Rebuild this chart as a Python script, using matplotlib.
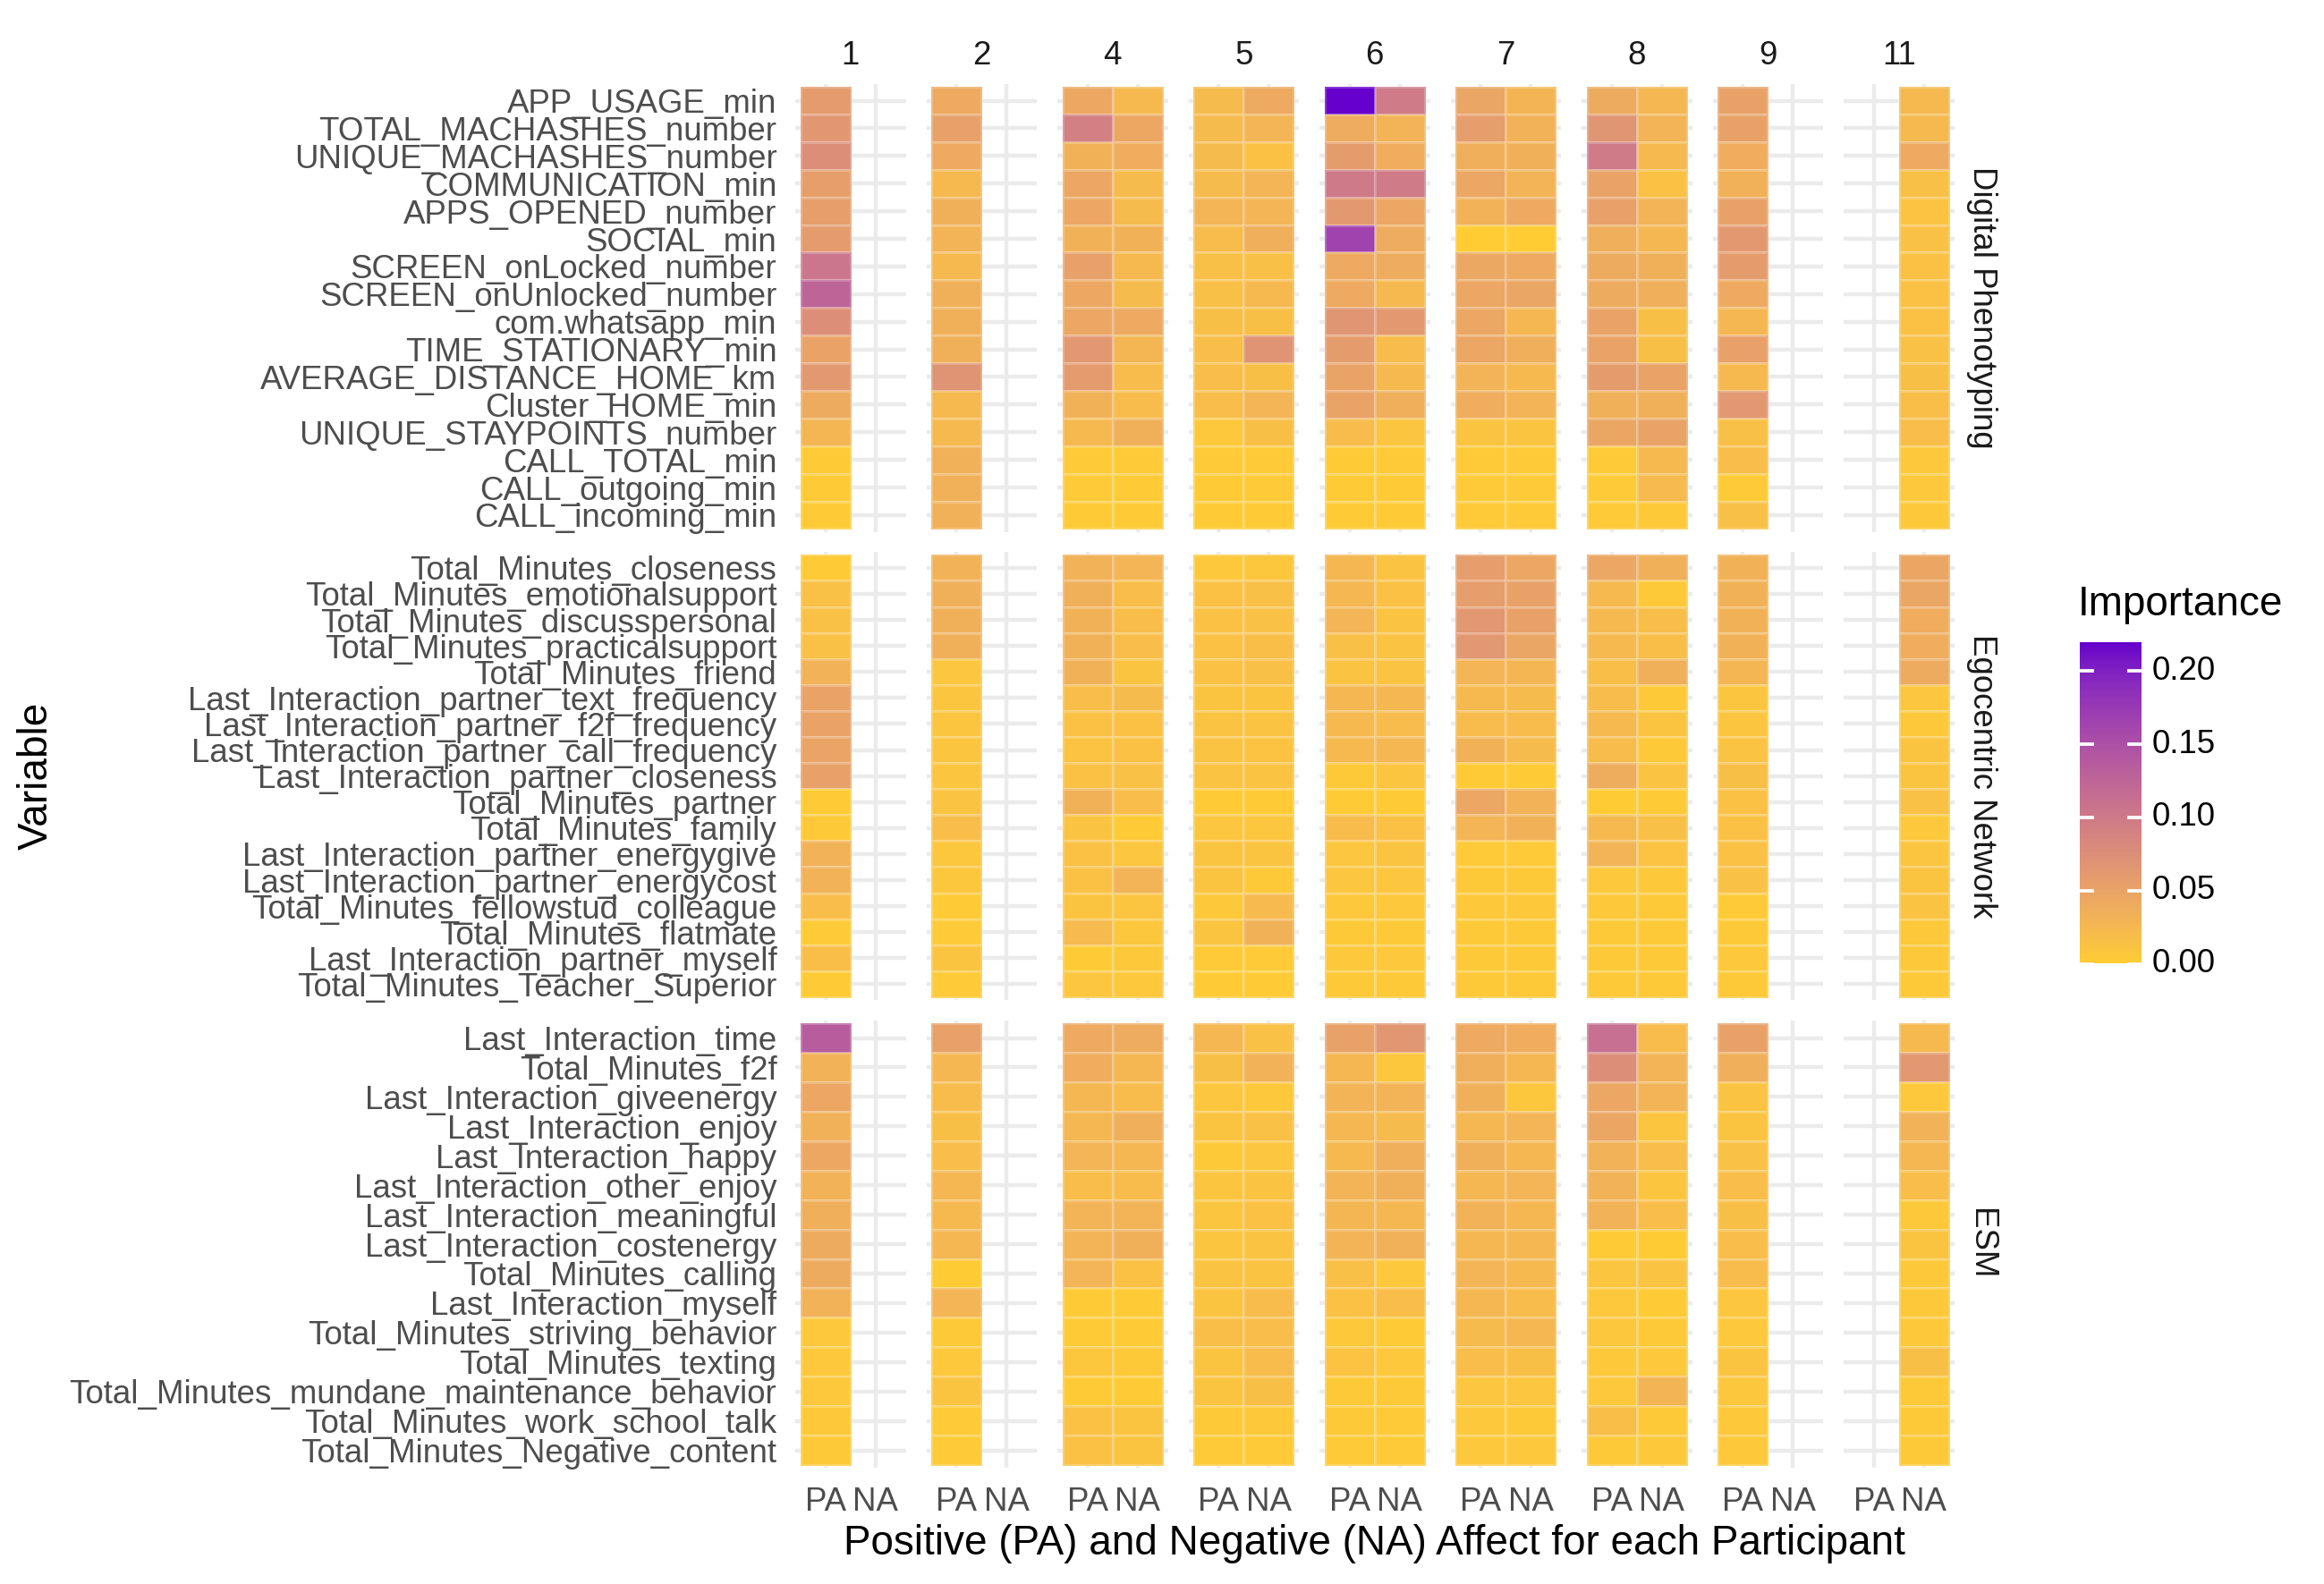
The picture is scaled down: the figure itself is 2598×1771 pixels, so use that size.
import numpy as np
import matplotlib
matplotlib.use("Agg")
import matplotlib.pyplot as plt
from matplotlib.colors import ListedColormap, Normalize, to_rgb
from matplotlib.transforms import blended_transform_factory

plt.rcParams["font.family"] = ["Liberation Sans", "DejaVu Sans"]

participants = ["1", "2", "4", "5", "6", "7", "8", "9", "11"]
affects = ["PA", "NA"]
groups = ["Digital Phenotyping", "Egocentric Network", "ESM"]

dp_vars = [
    "APP_USAGE_min", "TOTAL_MACHASHES_number", "UNIQUE_MACHASHES_number",
    "COMMUNICATION_min", "APPS_OPENED_number", "SOCIAL_min",
    "SCREEN_onLocked_number", "SCREEN_onUnlocked_number", "com.whatsapp_min",
    "TIME_STATIONARY_min", "AVERAGE_DISTANCE_HOME_km", "Cluster_HOME_min",
    "UNIQUE_STAYPOINTS_number", "CALL_TOTAL_min", "CALL_outgoing_min",
    "CALL_incoming_min",
]
en_vars = [
    "Total_Minutes_closeness", "Total_Minutes_emotionalsupport",
    "Total_Minutes_discusspersonal", "Total_Minutes_practicalsupport",
    "Total_Minutes_friend", "Last_Interaction_partner_text_frequency",
    "Last_Interaction_partner_f2f_frequency", "Last_Interaction_partner_call_frequency",
    "Last_Interaction_partner_closeness", "Total_Minutes_partner",
    "Total_Minutes_family", "Last_Interaction_partner_energygive",
    "Last_Interaction_partner_energycost", "Total_Minutes_fellowstud_colleague",
    "Total_Minutes_flatmate", "Last_Interaction_partner_myself",
    "Total_Minutes_Teacher_Superior",
]
esm_vars = [
    "Last_Interaction_time", "Total_Minutes_f2f", "Last_Interaction_giveenergy",
    "Last_Interaction_enjoy", "Last_Interaction_happy", "Last_Interaction_other_enjoy",
    "Last_Interaction_meaningful", "Last_Interaction_costenergy",
    "Total_Minutes_calling", "Last_Interaction_myself",
    "Total_Minutes_striving_behavior", "Total_Minutes_texting",
    "Total_Minutes_mundane_maintenance_behavior", "Total_Minutes_work_school_talk",
    "Total_Minutes_Negative_content",
]

# importance per participant, one list per affect (rows follow the variable lists)
dp_pa = {
    "1": [0.060, 0.065, 0.075, 0.055, 0.055, 0.060, 0.105, 0.125, 0.075, 0.050, 0.062, 0.040, 0.027, 0.002, 0.002, 0.002],
    "2": [0.042, 0.053, 0.042, 0.024, 0.034, 0.030, 0.024, 0.034, 0.034, 0.034, 0.068, 0.024, 0.024, 0.033, 0.033, 0.033],
    "4": [0.043, 0.092, 0.031, 0.045, 0.045, 0.031, 0.053, 0.043, 0.045, 0.063, 0.060, 0.031, 0.024, 0.003, 0.003, 0.002],
    "5": [0.021, 0.021, 0.021, 0.021, 0.029, 0.020, 0.015, 0.015, 0.016, 0.018, 0.018, 0.018, 0.006, 0.003, 0.002, 0.002],
    "6": [0.220, 0.039, 0.058, 0.100, 0.062, 0.165, 0.042, 0.042, 0.067, 0.058, 0.050, 0.050, 0.019, 0.002, 0.002, 0.002],
    "7": [0.047, 0.056, 0.036, 0.045, 0.032, 0.000, 0.044, 0.045, 0.045, 0.045, 0.030, 0.037, 0.010, 0.003, 0.003, 0.003],
    "8": [0.041, 0.067, 0.098, 0.050, 0.052, 0.036, 0.041, 0.041, 0.050, 0.050, 0.058, 0.034, 0.046, 0.003, 0.003, 0.003],
    "9": [0.051, 0.051, 0.037, 0.033, 0.051, 0.062, 0.058, 0.042, 0.026, 0.053, 0.024, 0.064, 0.015, 0.018, 0.003, 0.015],
}
dp_na = {
    "4": [0.024, 0.043, 0.037, 0.021, 0.021, 0.031, 0.024, 0.021, 0.042, 0.027, 0.019, 0.019, 0.035, 0.003, 0.002, 0.002],
    "5": [0.042, 0.029, 0.013, 0.029, 0.029, 0.036, 0.015, 0.023, 0.016, 0.068, 0.016, 0.029, 0.016, 0.003, 0.003, 0.002],
    "6": [0.098, 0.030, 0.037, 0.098, 0.045, 0.039, 0.039, 0.024, 0.062, 0.020, 0.024, 0.036, 0.009, 0.003, 0.002, 0.002],
    "7": [0.028, 0.032, 0.034, 0.030, 0.042, 0.000, 0.042, 0.047, 0.026, 0.036, 0.024, 0.030, 0.010, 0.003, 0.003, 0.003],
    "8": [0.026, 0.030, 0.024, 0.013, 0.030, 0.026, 0.035, 0.036, 0.016, 0.016, 0.050, 0.034, 0.050, 0.024, 0.022, 0.004],
    "11": [0.024, 0.024, 0.042, 0.015, 0.011, 0.014, 0.013, 0.013, 0.013, 0.014, 0.016, 0.017, 0.018, 0.006, 0.006, 0.005],
}
en_pa = {
    "1": [0.002, 0.014, 0.014, 0.014, 0.032, 0.050, 0.050, 0.049, 0.053, 0.002, 0.004, 0.032, 0.032, 0.018, 0.003, 0.017, 0.002],
    "2": [0.032, 0.035, 0.034, 0.035, 0.008, 0.009, 0.009, 0.009, 0.009, 0.012, 0.018, 0.007, 0.007, 0.002, 0.003, 0.010, 0.003],
    "4": [0.032, 0.035, 0.031, 0.031, 0.031, 0.018, 0.013, 0.011, 0.013, 0.031, 0.012, 0.013, 0.013, 0.010, 0.022, 0.002, 0.008],
    "5": [0.006, 0.013, 0.013, 0.013, 0.013, 0.010, 0.012, 0.012, 0.012, 0.002, 0.008, 0.010, 0.010, 0.005, 0.010, 0.003, 0.002],
    "6": [0.026, 0.026, 0.029, 0.015, 0.012, 0.026, 0.024, 0.024, 0.004, 0.002, 0.020, 0.008, 0.008, 0.006, 0.004, 0.006, 0.004],
    "7": [0.056, 0.056, 0.063, 0.063, 0.029, 0.023, 0.020, 0.031, 0.002, 0.045, 0.029, 0.003, 0.004, 0.005, 0.004, 0.004, 0.004],
    "8": [0.045, 0.024, 0.024, 0.023, 0.017, 0.020, 0.023, 0.020, 0.038, 0.001, 0.023, 0.030, 0.006, 0.005, 0.004, 0.004, 0.004],
    "9": [0.031, 0.031, 0.031, 0.031, 0.027, 0.009, 0.009, 0.012, 0.016, 0.013, 0.013, 0.013, 0.014, 0.003, 0.004, 0.006, 0.004],
}
en_na = {
    "4": [0.029, 0.018, 0.018, 0.018, 0.010, 0.021, 0.013, 0.013, 0.014, 0.018, 0.002, 0.008, 0.030, 0.009, 0.007, 0.005, 0.006],
    "5": [0.007, 0.015, 0.014, 0.017, 0.015, 0.010, 0.012, 0.011, 0.012, 0.002, 0.008, 0.010, 0.004, 0.022, 0.031, 0.003, 0.002],
    "6": [0.012, 0.013, 0.012, 0.012, 0.012, 0.026, 0.020, 0.026, 0.009, 0.002, 0.013, 0.010, 0.008, 0.006, 0.004, 0.006, 0.004],
    "7": [0.045, 0.051, 0.051, 0.047, 0.027, 0.021, 0.020, 0.021, 0.002, 0.032, 0.031, 0.003, 0.004, 0.005, 0.004, 0.004, 0.004],
    "8": [0.034, 0.004, 0.018, 0.017, 0.034, 0.004, 0.010, 0.004, 0.012, 0.002, 0.015, 0.011, 0.005, 0.004, 0.004, 0.004, 0.004],
    "11": [0.046, 0.047, 0.037, 0.037, 0.040, 0.008, 0.005, 0.010, 0.010, 0.014, 0.006, 0.009, 0.010, 0.012, 0.005, 0.005, 0.004],
}
esm_pa = {
    "1": [0.135, 0.032, 0.045, 0.033, 0.043, 0.032, 0.036, 0.040, 0.041, 0.032, 0.006, 0.006, 0.006, 0.005, 0.004],
    "2": [0.052, 0.026, 0.019, 0.016, 0.018, 0.026, 0.024, 0.026, 0.001, 0.029, 0.004, 0.006, 0.010, 0.003, 0.003],
    "4": [0.042, 0.037, 0.026, 0.026, 0.029, 0.018, 0.030, 0.030, 0.029, 0.002, 0.002, 0.007, 0.002, 0.013, 0.013],
    "5": [0.026, 0.016, 0.008, 0.010, 0.004, 0.009, 0.009, 0.009, 0.012, 0.010, 0.017, 0.010, 0.010, 0.004, 0.003],
    "6": [0.051, 0.026, 0.030, 0.025, 0.023, 0.030, 0.027, 0.030, 0.015, 0.013, 0.005, 0.011, 0.004, 0.004, 0.003],
    "7": [0.042, 0.036, 0.035, 0.026, 0.035, 0.025, 0.032, 0.026, 0.029, 0.026, 0.021, 0.018, 0.008, 0.006, 0.006],
    "8": [0.112, 0.075, 0.045, 0.046, 0.032, 0.032, 0.032, 0.002, 0.009, 0.006, 0.007, 0.005, 0.006, 0.017, 0.004],
    "9": [0.051, 0.036, 0.012, 0.010, 0.014, 0.018, 0.016, 0.018, 0.020, 0.008, 0.006, 0.010, 0.007, 0.005, 0.005],
}
esm_na = {
    "4": [0.039, 0.026, 0.020, 0.036, 0.026, 0.019, 0.030, 0.035, 0.013, 0.002, 0.002, 0.004, 0.002, 0.010, 0.010],
    "5": [0.014, 0.032, 0.006, 0.014, 0.008, 0.012, 0.013, 0.012, 0.012, 0.019, 0.018, 0.019, 0.016, 0.005, 0.003],
    "6": [0.065, 0.007, 0.030, 0.021, 0.036, 0.035, 0.025, 0.033, 0.006, 0.018, 0.002, 0.006, 0.004, 0.003, 0.003],
    "7": [0.037, 0.026, 0.007, 0.029, 0.026, 0.029, 0.026, 0.026, 0.024, 0.020, 0.025, 0.016, 0.008, 0.004, 0.006],
    "8": [0.019, 0.030, 0.030, 0.009, 0.018, 0.009, 0.018, 0.001, 0.012, 0.002, 0.004, 0.006, 0.028, 0.004, 0.005],
    "11": [0.024, 0.063, 0.006, 0.032, 0.025, 0.018, 0.005, 0.010, 0.005, 0.005, 0.005, 0.016, 0.004, 0.004, 0.004],
}

LOW, HIGH = "#FFCC33", "#6600CC"

_M = np.array([[0.4124564, 0.3575761, 0.1804375],
               [0.2126729, 0.7151522, 0.0721750],
               [0.0193339, 0.1191920, 0.9503041]])
_WHITE = np.array([0.95047, 1.0, 1.08883])


def _to_lab(color):
    rgb = np.array(to_rgb(color))
    lin = np.where(rgb <= 0.04045, rgb / 12.92, ((rgb + 0.055) / 1.055) ** 2.4)
    t = (_M @ lin) / _WHITE
    f = np.where(t > (6 / 29) ** 3, np.cbrt(t), t / (3 * (6 / 29) ** 2) + 4 / 29)
    return np.array([116 * f[1] - 16, 500 * (f[0] - f[1]), 200 * (f[1] - f[2])])


def _from_lab(lab):
    L, a, b = lab.T
    fy = (L + 16) / 116
    fx, fz = fy + a / 500, fy - b / 200

    def finv(f):
        return np.where(f > 6 / 29, f ** 3, 3 * (6 / 29) ** 2 * (f - 4 / 29))

    xyz = np.stack([finv(fx), finv(fy), finv(fz)], axis=1) * _WHITE
    lin = np.clip(xyz @ np.linalg.inv(_M).T, 0, None)
    rgb = np.where(lin <= 0.0031308, 12.92 * lin, 1.055 * lin ** (1 / 2.4) - 0.055)
    return np.clip(rgb, 0, 1)


def lab_gradient(low, high, n=256):
    t = np.linspace(0, 1, n)[:, None]
    lab = _to_lab(low) * (1 - t) + _to_lab(high) * t
    return ListedColormap(_from_lab(lab))


cmap = lab_gradient(LOW, HIGH)
all_vals = [v for d in (dp_pa, dp_na, en_pa, en_na, esm_pa, esm_na) for lst in d.values() for v in lst]
norm = Normalize(vmin=0.0, vmax=max(all_vals))

W, H, DPI = 2598, 1771, 300
fig = plt.figure(figsize=(W / DPI, H / DPI), dpi=DPI)

left0, top0 = 889.0, 94.0
pw, ph, gap = 123.6, 500.5, 22.9


def px_axes(x, y, w, h):
    return fig.add_axes([x / W, 1 - (y + h) / H, w / W, h / H])


group_data = [
    (dp_vars, dp_pa, dp_na),
    (en_vars, en_pa, en_na),
    (esm_vars, esm_pa, esm_na),
]

for g, (variables, pa, na) in enumerate(group_data):
    n = len(variables)
    y = top0 + g * (ph + gap)
    for j, p in enumerate(participants):
        x = left0 + j * (pw + gap)
        ax = px_axes(x, y, pw, ph)
        ax.set_xlim(-0.6, 1.6)
        ax.set_ylim(n - 0.4, -0.6)
        ax.set_xticks([0, 1])
        ax.set_yticks(range(n))
        ax.grid(True, color="#EBEBEB", linewidth=1.07)
        ax.set_axisbelow(True)
        for s in ax.spines.values():
            s.set_visible(False)
        ax.tick_params(length=0, pad=4.95, labelsize=8.8, labelcolor="#4D4D4D")
        ax.set_yticklabels(variables if j == 0 else [])
        ax.set_xticklabels(affects if g == 2 else [])

        for c, source in enumerate((pa, na)):
            if p not in source:
                continue
            vals = np.array(source[p]).reshape(-1, 1)
            ax.pcolormesh([c - 0.5, c + 0.5], np.arange(n + 1) - 0.5, vals,
                          cmap=cmap, norm=norm, edgecolors=(1, 1, 1, 0.22),
                          linewidth=0.25, zorder=2)

        if g == 0:
            fig.text((x + pw / 2) / W, 1 - 62 / H, p, ha="center", va="center",
                     fontsize=8.8, color="#1A1A1A")
    fig.text(2215 / W, 1 - (y + ph / 2) / H, groups[g], rotation=270,
             ha="center", va="center", fontsize=8.8, color="#1A1A1A")

total_w = 9 * pw + 8 * gap
total_h = 3 * ph + 2 * gap
fig.text((left0 + total_w / 2) / W, 1 - 1726 / H,
         "Positive (PA) and Negative (NA) Affect for each Participant",
         ha="center", va="center", fontsize=11)
fig.text(41 / W, 1 - (top0 + total_h / 2) / H, "Variable", rotation=90,
         ha="center", va="center", fontsize=11)

# colour bar legend
cax = px_axes(2325, 717.5, 69, 360)
vmax = norm.vmax
cax.imshow(np.linspace(vmax, 0, 300).reshape(-1, 1), aspect="auto", cmap=cmap,
           norm=norm, extent=[0, 1, 0, vmax])
cax.set_xlim(0, 1)
cax.set_ylim(0, vmax)
cax.axis("off")
trans = blended_transform_factory(cax.transAxes, cax.transData)
for t in [0.0, 0.05, 0.10, 0.15, 0.20]:
    cax.plot([0, 0.2], [t, t], color="white", lw=0.9, clip_on=False)
    cax.plot([0.8, 1], [t, t], color="white", lw=0.9, clip_on=False)
    cax.text(1.17, t, f"{t:.2f}", transform=trans, ha="left", va="center",
             fontsize=8.8, color="black")
fig.text(2323 / W, 1 - 676 / H, "Importance", ha="left", va="center", fontsize=11)

fig.savefig("out.png", dpi=DPI, facecolor="white")
